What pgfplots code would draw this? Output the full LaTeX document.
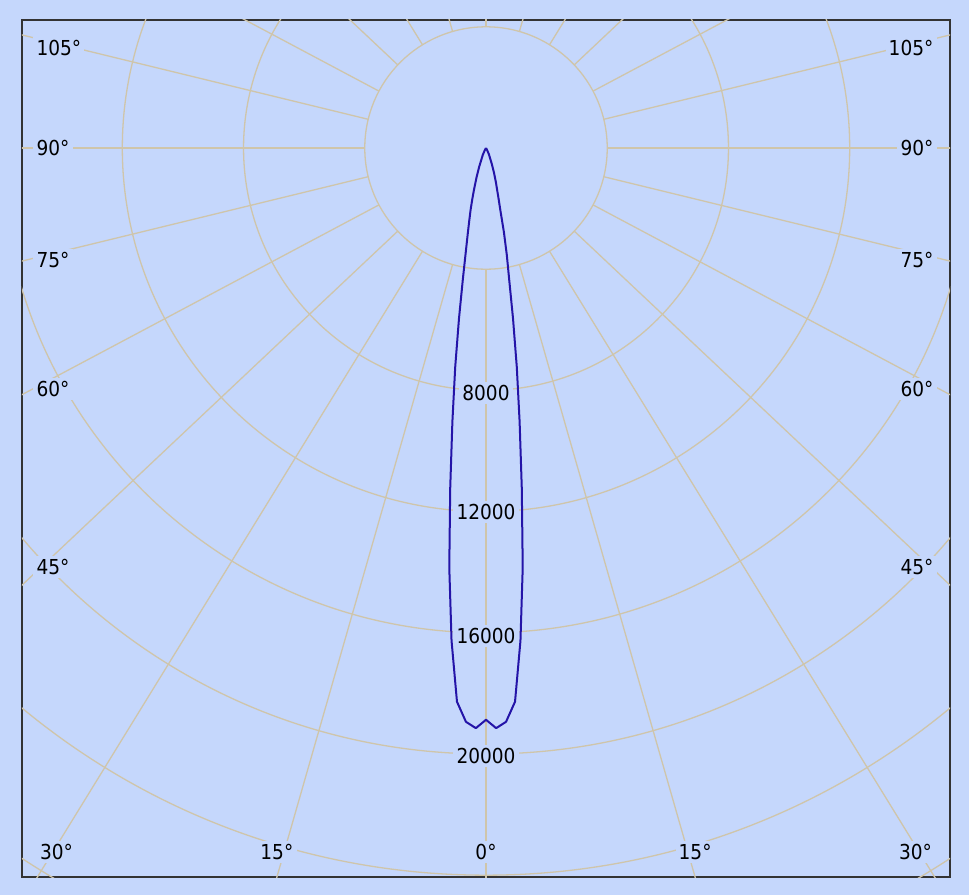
\documentclass[border=0pt]{standalone}
\usepackage{fontspec}
\setmainfont{DejaVu Sans Condensed}
\usepackage{pgfplots}
\pgfplotsset{compat=1.18}
\definecolor{bgblue}{RGB}{197,215,252}
\definecolor{gridtan}{RGB}{207,197,170}
\definecolor{curveblue}{RGB}{36,20,168}

\begin{document}
\begin{tikzpicture}[
  lbl/.style={fill=bgblue, inner sep=1.6pt, text=black,
    font=\fontsize{10.3}{12}\selectfont},
]
\fill[bgblue] (-11pt,-9pt) rectangle (473.5pt,438.5pt);
% all lengths in units of 1000 cd
\begin{axis}[
  at={(0,0)}, anchor=south west,
  scale only axis,
  width=464pt, height=428.5pt,
  xmin=-15.31, xmax=15.31,
  ymin=-24.06, ymax=4.225,
  xtick=\empty, ytick=\empty,
  axis line style={black!80, line width=0.8pt},
  axis background/.style={fill=bgblue},
]
% circles of equal intensity
\pgfplotsinvokeforeach{4,8,...,28}{
  \draw[gridtan, line width=0.65pt] (axis cs:0,0) circle[radius=#1];
}
% spokes (as drawn in the source, slightly off the nominal 15 deg)
\pgfplotsinvokeforeach{-90,-74,-106,-58.4,-121.6,-43.3,-136.7,-28,-152,-13.7,-166.3,
    0,180,13.7,166.3,28,152,43.3,136.7,58.4,121.6,74,106,90}{
  \draw[gridtan, line width=0.65pt]
    (axis cs:{4*cos(#1)},{4*sin(#1)}) -- (axis cs:{34*cos(#1)},{34*sin(#1)});
}
% angle labels
\node[lbl, anchor=west] at (axis cs:-14.95,3.31) {105°};
\node[lbl, anchor=west] at (axis cs:-14.95,0) {90°};
\node[lbl, anchor=west] at (axis cs:-14.95,-3.69) {75°};
\node[lbl, anchor=west] at (axis cs:-14.95,-7.94) {60°};
\node[lbl, anchor=west] at (axis cs:-14.95,-13.82) {45°};
\node[lbl, anchor=east] at (axis cs:14.88,3.31) {105°};
\node[lbl, anchor=east] at (axis cs:14.88,0) {90°};
\node[lbl, anchor=east] at (axis cs:14.88,-3.69) {75°};
\node[lbl, anchor=east] at (axis cs:14.88,-7.94) {60°};
\node[lbl, anchor=east] at (axis cs:14.88,-13.82) {45°};
\node[lbl] at (axis cs:-14.17,-23.25) {30°};
\node[lbl] at (axis cs:-6.9,-23.25) {15°};
\node[lbl] at (axis cs:0,-23.25) {0°};
\node[lbl] at (axis cs:6.9,-23.25) {15°};
\node[lbl] at (axis cs:14.17,-23.25) {30°};
% intensity labels
\node[lbl] at (axis cs:0,-8.075) {8000};
\node[lbl] at (axis cs:0,-12.02) {12000};
\node[lbl] at (axis cs:0,-16.11) {16000};
\node[lbl] at (axis cs:0,-20.07) {20000};
% luminous intensity curve (angle in deg, kcd)
\addplot[curveblue, line width=1pt, line join=round, no markers, data cs=polar] table {
a r
-125 0
-120 0.06
-115 0.25
-110 0.65
-108 1.00
-106 1.45
-105 1.75
-104 2.10
-103 2.45
-102 2.90
-101 3.50
-100 4.40
-99 5.70
-98 7.30
-97 9.10
-96 11.30
-95 13.90
-94 16.30
-93 18.30
-92 18.95
-91 19.15
-90 18.87
-89 19.15
-88 18.95
-87 18.30
-86 16.30
-85 13.90
-84 11.30
-83 9.10
-82 7.30
-81 5.70
-80 4.40
-79 3.60
-78 2.85
-77 2.10
-76 1.70
-75 1.40
-74 1.20
-72 0.85
-70 0.55
-65 0.22
-60 0.05
-55 0
};
\end{axis}
\end{tikzpicture}
\end{document}
